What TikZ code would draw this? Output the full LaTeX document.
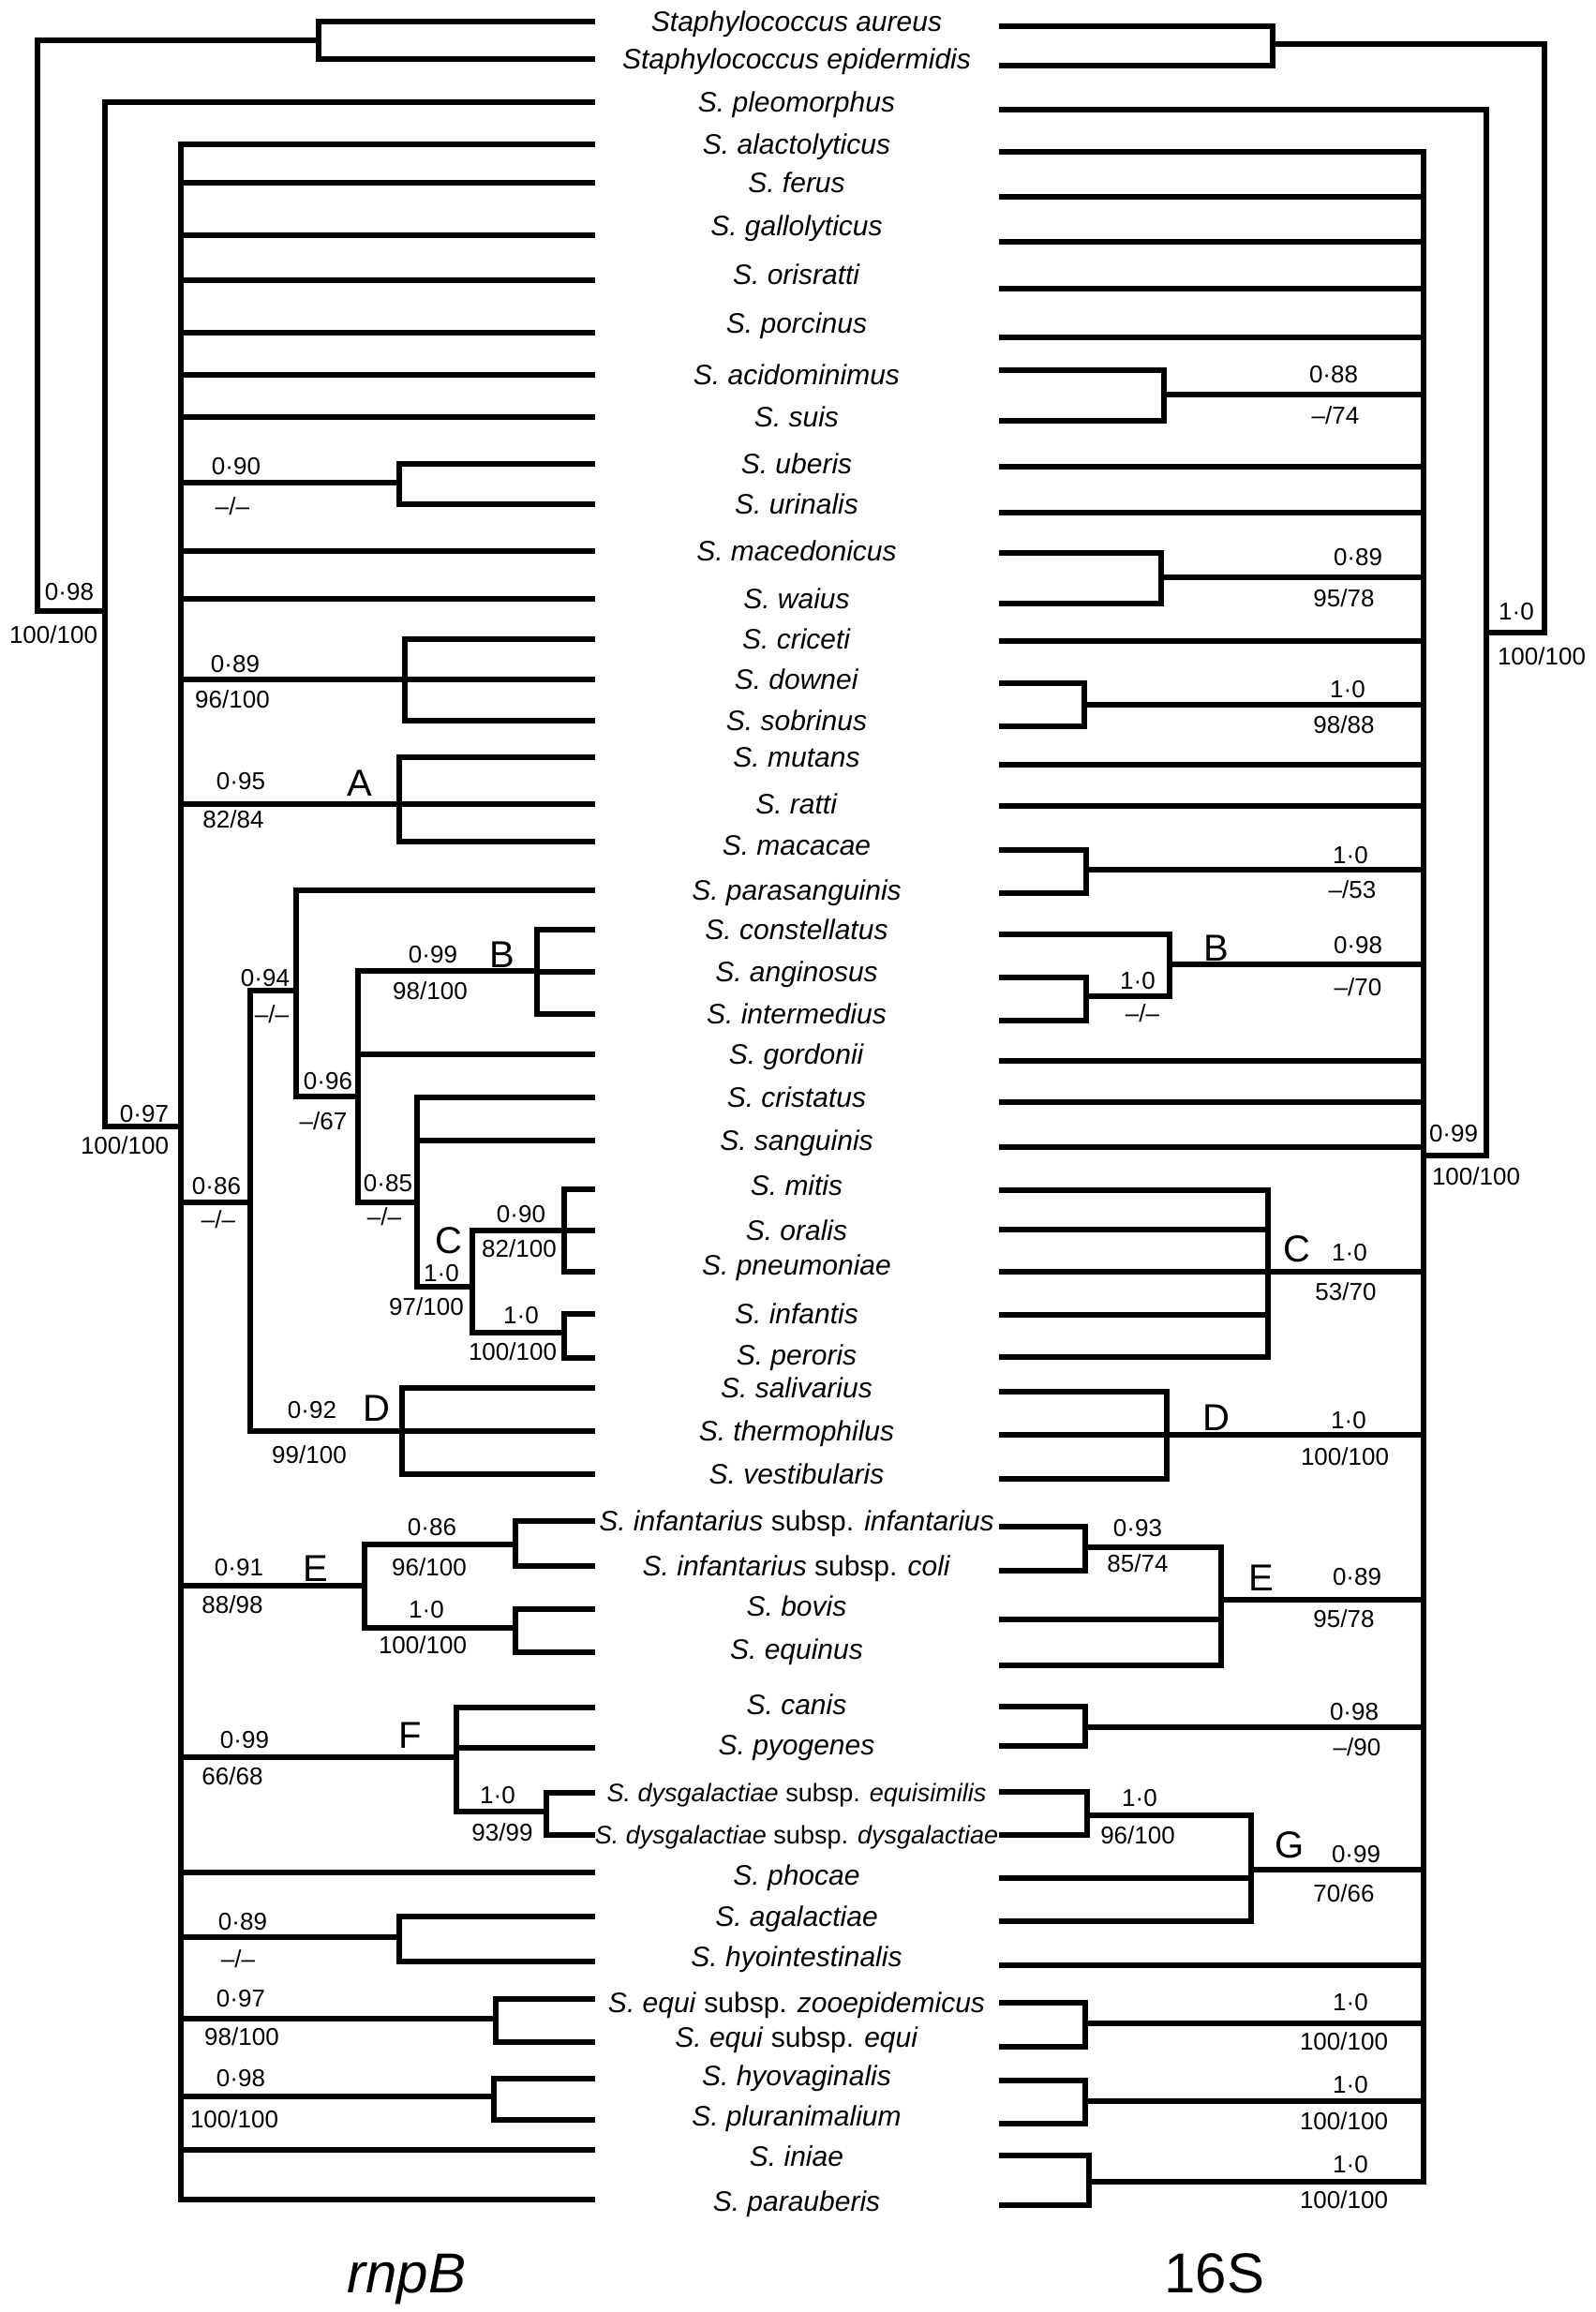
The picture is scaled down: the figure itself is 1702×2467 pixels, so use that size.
\documentclass[tikz,border=0pt]{standalone}
\usepackage{fontspec}
\setmainfont{Liberation Sans}
\newcommand\leafat[6]{\coordinate (l#1) at (632,#2); \coordinate (r#1) at (1069,#3); \node[#4] (s#1) at (850,#6) {#5};}
\newcommand\leaf[5]{\leafat{#1}{#2}{#3}{#4}{#5}{#2}}
\newcommand\brn[2]{\draw[br] (#1) |- (#2);}
\begin{document}
\begin{tikzpicture}[x=1pt,y=-1pt,
  br/.style={line width=5.5pt,line cap=rect,line join=miter},
  sp/.style={inner sep=0pt,text height=21.5pt,text depth=0pt,font=\fontsize{30}{36}\selectfont},
  spsm/.style={inner sep=0pt,text height=19.3pt,text depth=0pt,font=\fontsize{27}{32}\selectfont},
  lab/.style={inner sep=0pt,text height=18.6pt,text depth=0pt,font=\fontsize{26}{30}\selectfont},
  clade/.style={inner sep=0pt,text height=28.6pt,text depth=0pt,font=\fontsize{40}{48}\selectfont},
  genelab/.style={inner sep=0pt,text height=43pt,text depth=0pt,font=\fontsize{60}{72}\selectfont}]
\useasboundingbox (0,0) rectangle (1702,2467);

% ---------- leaves ----------
\leaf{1}{23}{28}{sp}{\textit{Staphylococcus aureus}}
\leaf{2}{63}{70}{sp}{\textit{Staphylococcus epidermidis}}
\leaf{3}{109}{117}{sp}{\textit{S. pleomorphus}}
\leaf{4}{154}{162}{sp}{\textit{S. alactolyticus}}
\leaf{5}{195}{210}{sp}{\textit{S. ferus}}
\leafat{6}{251}{258}{sp}{\textit{S. gallolyticus}}{241}
\leafat{7}{299}{308}{sp}{\textit{S. orisratti}}{293}
\leafat{8}{355}{360}{sp}{\textit{S. porcinus}}{345}
\leaf{9}{400}{395}{sp}{\textit{S. acidominimus}}
\leaf{10}{445}{449}{sp}{\textit{S. suis}}
\leaf{11}{495}{498}{sp}{\textit{S. uberis}}
\leaf{12}{538}{547}{sp}{\textit{S. urinalis}}
\leaf{13}{588}{590}{sp}{\textit{S. macedonicus}}
\leaf{14}{639}{644}{sp}{\textit{S. waius}}
\leaf{15}{682}{684}{sp}{\textit{S. criceti}}
\leaf{16}{725}{729}{sp}{\textit{S. downei}}
\leaf{17}{769}{775}{sp}{\textit{S. sobrinus}}
\leaf{18}{808}{816}{sp}{\textit{S. mutans}}
\leaf{19}{858}{860}{sp}{\textit{S. ratti}}
\leafat{20}{898}{907}{sp}{\textit{S. macacae}}{902}
\leaf{21}{950}{953}{sp}{\textit{S. parasanguinis}}
\leaf{22}{992}{997}{sp}{\textit{S. constellatus}}
\leaf{23}{1037}{1043}{sp}{\textit{S. anginosus}}
\leaf{24}{1082}{1089}{sp}{\textit{S. intermedius}}
\leaf{25}{1125}{1132}{sp}{\textit{S. gordonii}}
\leaf{26}{1171}{1176}{sp}{\textit{S. cristatus}}
\leaf{27}{1217}{1224}{sp}{\textit{S. sanguinis}}
\leafat{28}{1269}{1270}{sp}{\textit{S. mitis}}{1265}
\leaf{29}{1313}{1312}{sp}{\textit{S. oralis}}
\leafat{30}{1357}{1357}{sp}{\textit{S. pneumoniae}}{1350}
\leaf{31}{1402}{1403}{sp}{\textit{S. infantis}}
\leafat{32}{1449}{1448}{sp}{\textit{S. peroris}}{1446}
\leaf{33}{1481}{1485}{sp}{\textit{S. salivarius}}
\leaf{34}{1527}{1531}{sp}{\textit{S. thermophilus}}
\leaf{35}{1573}{1578}{sp}{\textit{S. vestibularis}}
\leaf{36}{1623}{1629}{sp}{\textit{S. infantarius} subsp. \textit{infantarius}}
\leaf{37}{1671}{1676}{sp}{\textit{S. infantarius} subsp. \textit{coli}}
\leafat{38}{1717}{1728}{sp}{\textit{S. bovis}}{1714}
\leafat{39}{1763}{1777}{sp}{\textit{S. equinus}}{1760}
\leafat{40}{1822}{1821}{sp}{\textit{S. canis}}{1819}
\leafat{41}{1865}{1863}{sp}{\textit{S. pyogenes}}{1862}
\leaf{42}{1913}{1912}{spsm}{\textit{S. dysgalactiae} subsp. \textit{equisimilis}}
\leaf{43}{1958}{1958}{spsm}{\textit{S. dysgalactiae} subsp. \textit{dysgalactiae}}
\leafat{44}{1998}{2004}{sp}{\textit{S. phocae}}{2001}
\leaf{45}{2045}{2050}{sp}{\textit{S. agalactiae}}
\leafat{46}{2093}{2097}{sp}{\textit{S. hyointestinalis}}{2088}
\leafat{47}{2133}{2137}{sp}{\textit{S. equi} subsp. \textit{zooepidemicus}}{2137}
\leafat{48}{2179}{2184}{sp}{\textit{S. equi} subsp. \textit{equi}}{2174}
\leafat{49}{2218}{2220}{sp}{\textit{S. hyovaginalis}}{2215}
\leafat{50}{2262}{2266}{sp}{\textit{S. pluranimalium}}{2258}
\leafat{51}{2294}{2300}{sp}{\textit{S. iniae}}{2301}
\leafat{52}{2347}{2353}{sp}{\textit{S. parauberis}}{2349}

% ---------- left tree (rnpB) ----------
\coordinate (LR) at (40,43);
\coordinate (LS) at (340,43);
\coordinate (LN1) at (112,652);
\coordinate (LN2) at (193,1202);
\coordinate (LU) at (426,515);
\coordinate (LCr) at (432,725);
\coordinate (LA) at (426,858);
\coordinate (L86) at (267,1283);
\coordinate (L94) at (316,1057);
\coordinate (L96) at (382,1170);
\coordinate (LB) at (573,1036);
\coordinate (L85) at (445,1283);
\coordinate (LC) at (504,1373);
\coordinate (L90) at (602,1313);
\coordinate (L10) at (602,1422);
\coordinate (LD) at (429,1527);
\coordinate (LE) at (389,1692);
\coordinate (LE1) at (550,1648);
\coordinate (LE2) at (550,1737);
\coordinate (LF) at (487,1875);
\coordinate (LF2) at (583,1933);
\coordinate (L89) at (426,2067);
\coordinate (LEq) at (529,2154);
\coordinate (LHy) at (527,2237);

\brn{LR}{LS} \brn{LR}{LN1}
\brn{LS}{l1} \brn{LS}{l2}
\brn{LN1}{l3} \brn{LN1}{LN2}
\foreach \c in {l4,l5,l6,l7,l8,l9,l10,LU,l13,l14,LCr,LA,L86,LE,LF,l44,L89,LEq,LHy,l51,l52} {\brn{LN2}{\c}}
\brn{LU}{l11} \brn{LU}{l12}
\brn{LCr}{l15} \brn{LCr}{l16} \brn{LCr}{l17}
\brn{LA}{l18} \brn{LA}{l19} \brn{LA}{l20}
\brn{L86}{L94} \brn{L86}{LD}
\brn{L94}{l21} \brn{L94}{L96}
\brn{L96}{LB} \brn{L96}{l25} \brn{L96}{L85}
\brn{LB}{l22} \brn{LB}{l23} \brn{LB}{l24}
\brn{L85}{l26} \brn{L85}{l27} \brn{L85}{LC}
\brn{LC}{L90} \brn{LC}{L10}
\brn{L90}{l28} \brn{L90}{l29} \brn{L90}{l30}
\brn{L10}{l31} \brn{L10}{l32}
\brn{LD}{l33} \brn{LD}{l34} \brn{LD}{l35}
\brn{LE}{LE1} \brn{LE}{LE2}
\brn{LE1}{l36} \brn{LE1}{l37}
\brn{LE2}{l38} \brn{LE2}{l39}
\brn{LF}{l40} \brn{LF}{l41} \brn{LF}{LF2}
\brn{LF2}{l42} \brn{LF2}{l43}
\brn{L89}{l45} \brn{L89}{l46}
\brn{LEq}{l47} \brn{LEq}{l48}
\brn{LHy}{l49} \brn{LHy}{l50}

% ---------- right tree (16S) ----------
\coordinate (RR) at (1648,47);
\coordinate (RS) at (1358,47);
\coordinate (RN1) at (1586,675);
\coordinate (RN2) at (1519,1233);
\coordinate (RAc) at (1242,421);
\coordinate (RMa) at (1239,616);
\coordinate (RDo) at (1157,752);
\coordinate (RMc) at (1159,928);
\coordinate (RB) at (1248,1029);
\coordinate (RB2) at (1159,1063);
\coordinate (RC) at (1353,1357);
\coordinate (RD) at (1245,1531);
\coordinate (RE) at (1303,1707);
\coordinate (RE1) at (1158,1651);
\coordinate (RCa) at (1158,1843);
\coordinate (RG) at (1335,1995);
\coordinate (RG1) at (1160,1937);
\coordinate (REq) at (1158,2159);
\coordinate (RHy) at (1158,2242);
\coordinate (RIn) at (1162,2328);

\brn{RR}{RS} \brn{RR}{RN1}
\brn{RS}{r1} \brn{RS}{r2}
\brn{RN1}{r3} \brn{RN1}{RN2}
\foreach \c in {r4,r5,r6,r7,r8,RAc,r11,r12,RMa,r15,RDo,r18,r19,RMc,RB,r25,r26,r27,RC,RD,RE,RCa,RG,r46,REq,RHy,RIn} {\brn{RN2}{\c}}
\brn{RAc}{r9} \brn{RAc}{r10}
\brn{RMa}{r13} \brn{RMa}{r14}
\brn{RDo}{r16} \brn{RDo}{r17}
\brn{RMc}{r20} \brn{RMc}{r21}
\brn{RB}{r22} \brn{RB}{RB2}
\brn{RB2}{r23} \brn{RB2}{r24}
\brn{RC}{r28} \brn{RC}{r29} \brn{RC}{r30} \brn{RC}{r31} \brn{RC}{r32}
\brn{RD}{r33} \brn{RD}{r34} \brn{RD}{r35}
\brn{RE}{RE1} \brn{RE}{r38} \brn{RE}{r39}
\brn{RE1}{r36} \brn{RE1}{r37}
\brn{RCa}{r40} \brn{RCa}{r41}
\brn{RG}{RG1} \brn{RG}{r44} \brn{RG}{r45}
\brn{RG1}{r42} \brn{RG1}{r43}
\brn{REq}{r47} \brn{REq}{r48}
\brn{RHy}{r49} \brn{RHy}{r50}
\brn{RIn}{r51} \brn{RIn}{r52}

% ---------- left support values ----------
\node[lab] (a1) at (74,631) {0·98};
\node[lab] (a2) at (57,677) {100/100};
\node[lab] (a3) at (154,1188) {0·97};
\node[lab] (a4) at (133,1222) {100/100};
\node[lab] (a5) at (252,497) {0·90};
\node[lab] (a6) at (248,540) {–/–};
\node[lab] (a7) at (251,708) {0·89};
\node[lab] (a8) at (248,746) {96/100};
\node[lab] (a9) at (257,833) {0·95};
\node[lab] (a10) at (249,874) {82/84};
\node[lab] (a11) at (283,1043) {0·94};
\node[lab] (a12) at (290,1082) {–/–};
\node[lab] (a13) at (350,1153) {0·96};
\node[lab] (a14) at (345,1196) {–/67};
\node[lab] (a15) at (462,1018) {0·99};
\node[lab] (a16) at (459,1057) {98/100};
\node[lab] (a17) at (231,1265) {0·86};
\node[lab] (a18) at (233,1301) {–/–};
\node[lab] (a19) at (414,1262) {0·85};
\node[lab] (a20) at (410,1298) {–/–};
\node[lab] (a21) at (471,1358) {1·0};
\node[lab] (a22) at (455,1394) {97/100};
\node[lab] (a23) at (556,1295) {0·90};
\node[lab] (a24) at (554,1332) {82/100};
\node[lab] (a25) at (556,1403) {1·0};
\node[lab] (a26) at (547,1442) {100/100};
\node[lab] (a27) at (333,1504) {0·92};
\node[lab] (a28) at (330,1552) {99/100};
\node[lab] (a29) at (255,1672) {0·91};
\node[lab] (a30) at (248,1712) {88/98};
\node[lab] (a31) at (461,1629) {0·86};
\node[lab] (a32) at (458,1672) {96/100};
\node[lab] (a33) at (455,1717) {1·0};
\node[lab] (a34) at (451,1755) {100/100};
\node[lab] (a35) at (261,1856) {0·99};
\node[lab] (a36) at (248,1895) {66/68};
\node[lab] (a37) at (531,1915) {1·0};
\node[lab] (a38) at (536,1955) {93/99};
\node[lab] (a39) at (259,2050) {0·89};
\node[lab] (a40) at (254,2090) {–/–};
\node[lab] (a41) at (257,2132) {0·97};
\node[lab] (a42) at (258,2173) {98/100};
\node[lab] (a43) at (257,2217) {0·98};
\node[lab] (a44) at (250,2261) {100/100};
\node[clade] (kA) at (384,835) {A};
\node[clade] (kB) at (536,1018) {B};
\node[clade] (kC) at (479,1323) {C};
\node[clade] (kD) at (402,1502) {D};
\node[clade] (kE) at (337,1673) {E};
\node[clade] (kF) at (438,1851) {F};

% ---------- right support values ----------
\node[lab] (b1) at (1618,652) {1·0};
\node[lab] (b2) at (1645,700) {100/100};
\node[lab] (b3) at (1551,1209) {0·99};
\node[lab] (b4) at (1575,1255) {100/100};
\node[lab] (b5) at (1423,399) {0·88};
\node[lab] (b6) at (1425,443) {–/74};
\node[lab] (b7) at (1449,594) {0·89};
\node[lab] (b8) at (1434,638) {95/78};
\node[lab] (b9) at (1438,735) {1·0};
\node[lab] (b10) at (1434,773) {98/88};
\node[lab] (b11) at (1441,912) {1·0};
\node[lab] (b12) at (1443,949) {–/53};
\node[lab] (b13) at (1449,1008) {0·98};
\node[lab] (b14) at (1449,1053) {–/70};
\node[lab] (b15) at (1214,1046) {1·0};
\node[lab] (b16) at (1219,1081) {–/–};
\node[lab] (b17) at (1440,1336) {1·0};
\node[lab] (b18) at (1436,1378) {53/70};
\node[lab] (b19) at (1439,1515) {1·0};
\node[lab] (b20) at (1435,1554) {100/100};
\node[lab] (b21) at (1214,1630) {0·93};
\node[lab] (b22) at (1214,1668) {85/74};
\node[lab] (b23) at (1448,1682) {0·89};
\node[lab] (b24) at (1434,1727) {95/78};
\node[lab] (b25) at (1445,1826) {0·98};
\node[lab] (b26) at (1448,1864) {–/90};
\node[lab] (b27) at (1216,1918) {1·0};
\node[lab] (b28) at (1214,1958) {96/100};
\node[lab] (b29) at (1447,1978) {0·99};
\node[lab] (b30) at (1434,2020) {70/66};
\node[lab] (b31) at (1441,2136) {1·0};
\node[lab] (b32) at (1434,2178) {100/100};
\node[lab] (b33) at (1441,2224) {1·0};
\node[lab] (b34) at (1434,2263) {100/100};
\node[lab] (b35) at (1441,2309) {1·0};
\node[lab] (b36) at (1434,2347) {100/100};
\node[clade] (mB) at (1298,1011) {B};
\node[clade] (mC) at (1384,1332) {C};
\node[clade] (mD) at (1298,1512) {D};
\node[clade] (mE) at (1346,1683) {E};
\node[clade] (mG) at (1376,1968) {G};

% ---------- gene names ----------
\node[genelab] (g1) at (434,2425) {\textit{rnpB}};
\node[genelab] (g2) at (1296,2425) {16S};
\end{tikzpicture}
\end{document}
